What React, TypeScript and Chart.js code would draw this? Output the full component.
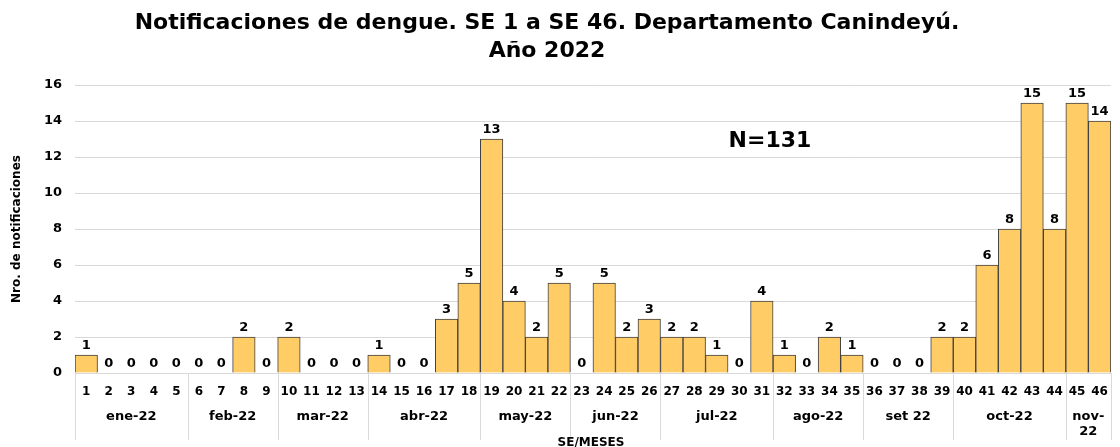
import React, { useEffect, useRef } from "react";
import { Chart, registerables } from "chart.js";

Chart.register(...registerables);

const weeks: string[] = [
  "1", "2", "3", "4", "5", "6", "7", "8", "9", "10",
  "11", "12", "13", "14", "15", "16", "17", "18", "19", "20",
  "21", "22", "23", "24", "25", "26", "27", "28", "29", "30",
  "31", "32", "33", "34", "35", "36", "37", "38", "39", "40",
  "41", "42", "43", "44", "45", "46",
];

const notificaciones: number[] = [
  1, 0, 0, 0, 0, 0, 0, 2, 0, 2,
  0, 0, 0, 1, 0, 0, 3, 5, 13, 4,
  2, 5, 0, 5, 2, 3, 2, 2, 1, 0,
  4, 1, 0, 2, 1, 0, 0, 0, 2, 2,
  6, 8, 15, 8, 15, 14,
];

const months: string[] = [
  "ene-22", "feb-22", "mar-22", "abr-22", "may-22", "jun-22",
  "jul-22", "ago-22", "set 22", "oct-22", "nov-\n22",
];
const weeksPerMonth: number[] = [5, 4, 4, 5, 4, 4, 5, 4, 4, 5, 2];

const yTicks: number[] = [0, 2, 4, 6, 8, 10, 12, 14, 16];

const titleLines: string[] = [
  "Notificaciones de dengue. SE 1 a SE 46. Departamento Canindeyú.",
  "Año 2022",
];
const totalText = "N=131";
const yTitle = "Nro. de notificaciones";
const xTitle = "SE/MESES";

const FONT = "'DejaVu Sans', Verdana, sans-serif";

const decorPlugin = {
  id: "decor",
  afterDatasetsDraw(chart: any) {
    const ctx = chart.ctx;
    const meta = chart.getDatasetMeta(0);
    ctx.save();
    ctx.font = `bold 13px ${FONT}`;
    ctx.fillStyle = "#000";
    ctx.textAlign = "center";
    ctx.textBaseline = "alphabetic";
    meta.data.forEach((bar: any, i: number) => {
      const v = chart.data.datasets[0].data[i];
      ctx.fillText(String(v), bar.x, bar.y - 6);
    });
    ctx.restore();
  },
  afterDraw(chart: any) {
    const ctx = chart.ctx;
    const area = chart.chartArea;
    const xs = chart.scales.x;
    const w = xs.getPixelForValue(1) - xs.getPixelForValue(0);
    const edge = (idx: number) => xs.getPixelForValue(0) - w / 2 + idx * w;
    ctx.save();

    // title
    ctx.fillStyle = "#000";
    ctx.textAlign = "center";
    ctx.textBaseline = "alphabetic";
    ctx.font = `bold 22px ${FONT}`;
    ctx.fillText(titleLines[0], 547, 29);
    ctx.fillText(titleLines[1], 547, 57);

    // N annotation
    ctx.font = `bold 22px ${FONT}`;
    ctx.textBaseline = "middle";
    ctx.fillText(totalText, 770, 141);

    // y title
    ctx.save();
    ctx.translate(17, (area.top + area.bottom) / 2);
    ctx.rotate(-Math.PI / 2);
    ctx.font = `bold 12px ${FONT}`;
    ctx.textBaseline = "middle";
    ctx.fillText(yTitle, 0, 0);
    ctx.restore();

    // month separators and labels
    ctx.strokeStyle = "#d9d9d9";
    ctx.lineWidth = 1;
    let start = 0;
    const bounds: number[] = [0];
    weeksPerMonth.forEach((n) => {
      start += n;
      bounds.push(start);
    });
    bounds.forEach((b) => {
      const x = Math.round(edge(b)) + 0.5;
      ctx.beginPath();
      ctx.moveTo(x, area.bottom);
      ctx.lineTo(x, 440);
      ctx.stroke();
    });
    ctx.font = `bold 13px ${FONT}`;
    ctx.textBaseline = "middle";
    months.forEach((m, i) => {
      const cx = (edge(bounds[i]) + edge(bounds[i + 1])) / 2;
      const lines = m.split("\n");
      lines.forEach((ln, j) => {
        ctx.fillText(ln, cx, 417 + j * 15);
      });
    });

    // x title
    ctx.font = `bold 12px ${FONT}`;
    ctx.fillText(xTitle, 591, 443);
    ctx.restore();
  },
};

export default function App() {
  const ref = useRef<HTMLCanvasElement | null>(null);
  useEffect(() => {
    document.body.style.margin = "0";
    if (!ref.current) return;
    const chart = new Chart(ref.current, {
      type: "bar",
      data: {
        labels: weeks,
        datasets: [
          {
            data: notificaciones,
            backgroundColor: "#FFCC66",
            borderColor: "#404040",
            borderWidth: 1,
            barPercentage: 1,
            categoryPercentage: 1,
          },
        ],
      },
      options: {
        animation: false,
        responsive: false,
        layout: { padding: { top: 85, left: 0, right: 3, bottom: 0 } },
        plugins: {
          legend: { display: false },
          title: { display: false },
          tooltip: { enabled: false },
        },
        scales: {
          x: {
            grid: { display: false, drawTicks: false },
            border: { display: true, color: "#d9d9d9" },
            ticks: {
              font: { family: FONT, size: 12, weight: "bold" },
              color: "#000",
              padding: 12,
              maxRotation: 0,
              autoSkip: false,
            },
            afterFit: (s: any) => {
              s.height = 74;
            },
          },
          y: {
            min: 0,
            max: 16,
            afterBuildTicks: (s: any) => {
              s.ticks = yTicks.map((v) => ({ value: v }));
            },
            grid: { color: "#d9d9d9", drawTicks: false },
            border: { display: false },
            ticks: {
              font: { family: FONT, size: 13, weight: "bold" },
              color: "#000",
              padding: 13,
            },
            afterFit: (s: any) => {
              s.width = 75;
            },
          },
        },
      },
      plugins: [decorPlugin],
    } as any);
    return () => chart.destroy();
  }, []);
  return (
    <div style={{ position: "absolute", left: 0, top: 0, width: 1120, height: 447 }}>
      <canvas ref={ref} width={1120} height={447} style={{ display: "block" }} />
    </div>
  );
}
